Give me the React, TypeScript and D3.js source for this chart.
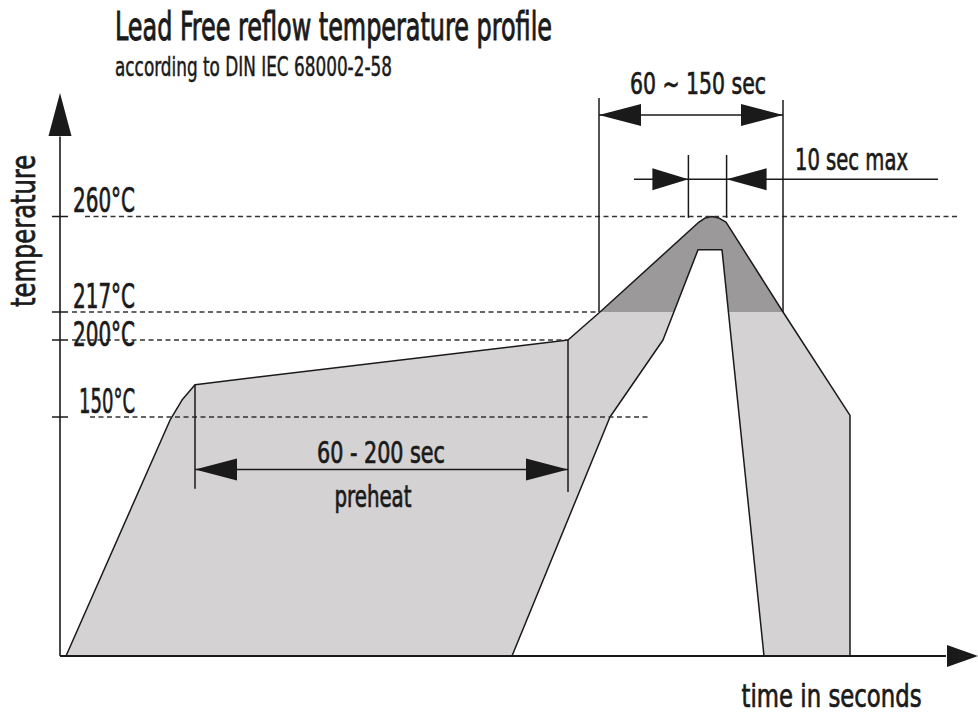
import React from 'react';
import * as d3 from 'd3';

// Schematic lead-free reflow profile. Points are [seconds, °C].
const upperProfile: [number, number][] = [
  [3, 0], [55, 148], [61, 161], [67.5, 171], [254, 200], [270, 217],
  [319.5, 257.5], [322.5, 259.3], [326, 260], [329.5, 259.3], [333, 257.5],
  [361.5, 217], [395, 151], [395, 0],
];
const lowerProfile: [number, number][] = [
  [352, 0], [331, 245], [319, 245], [301.5, 200], [275, 150], [226, 0],
];

const tempLevels = [260, 217, 200, 150];
const tempLabels = ['260°C', '217°C', '200°C', '150°C'];
// start / end second of each dashed guide line
const guideFrom = [12.5, 6, 6, 15];
const guideTo = [450, 269.5, 254, 295];

// dimension annotations [seconds, seconds, °C]
const preheatSpan = [67.5, 254, 117];
const peakSpan = [269.5, 361.5, 305.7];
const maxSpan = [314.2, 333.3, 276.8];

const title = 'Lead Free reflow temperature profile';
const subtitle = 'according to DIN IEC 68000-2-58';

const W = 978;
const H = 720;
const FONT = "'Liberation Sans Narrow', 'DejaVu Sans Condensed', 'Roboto', sans-serif";
const INK = '#1a1a1a';
const LIGHT = '#d4d2d3';
const DARK = '#9b999a';

const x = d3.scaleLinear().domain([0, 450]).range([60, 960]);
const y = d3.scaleLinear().domain([0, 150, 200, 217, 260]).range([656, 417, 340, 312, 216.5]);

const line = d3
  .line<[number, number]>()
  .x((d) => x(d[0]))
  .y((d) => y(d[1]))
  .curve(d3.curveLinearClosed);

// triangle with its tip at (tx, ty) pointing in direction dir
const arrow = (tx: number, ty: number, dir: 'l' | 'r' | 'u', len = 42, half = 11) => {
  if (dir === 'u') return `M${tx},${ty}L${tx - half},${ty + len}L${tx + half},${ty + len}Z`;
  const s = dir === 'r' ? -1 : 1;
  return `M${tx},${ty}L${tx + s * len},${ty - half}L${tx + s * len},${ty + half}Z`;
};

// medium-weight look: regular glyphs with a thin outline
const txt = { stroke: INK, strokeWidth: 0.7, lengthAdjust: 'spacingAndGlyphs' } as const;

const App: React.FC = () => {
  const band = [...upperProfile, ...lowerProfile];
  const clipY = y(217);

  const [pA, pB, pT] = preheatSpan;
  const [kA, kB, kT] = peakSpan;
  const [mA, mB, mT] = maxSpan;

  return (
    <svg
      width={W}
      height={H}
      style={{ position: 'absolute', left: 0, top: 0, background: '#fff' }}
      fontFamily={FONT}
      fill={INK}
    >
      <defs>
        <clipPath id="above217">
          <rect x={0} y={0} width={W} height={clipY} />
        </clipPath>
      </defs>

      {/* title */}
      <text x={115} y={40} fontSize={39} textLength={437} {...txt} strokeWidth={0.9}>
        {title}
      </text>
      <text x={115} y={76} fontSize={27} textLength={277} {...txt} strokeWidth={0.5}>
        {subtitle}
      </text>

      {/* profile band */}
      <path d={line(band) ?? ''} fill={LIGHT} stroke="none" />
      <path d={line(band) ?? ''} fill={DARK} stroke="none" clipPath="url(#above217)" />
      <path d={line(band) ?? ''} fill="none" stroke={INK} strokeWidth={1.5} strokeLinejoin="round" />

      {/* dashed guides */}
      {tempLevels.map((t, i) => (
        <line
          key={'g' + t}
          x1={x(guideFrom[i])}
          x2={x(guideTo[i])}
          y1={y(t)}
          y2={y(t)}
          stroke="#333"
          strokeWidth={1.5}
          strokeDasharray="5,3.5"
        />
      ))}

      {/* axes */}
      <line x1={x(0)} x2={x(0)} y1={y(0)} y2={y(296)} stroke={INK} strokeWidth={1.6} />
      <path d={arrow(x(0), y(315.6), 'u', 43, 11.5)} />
      <line x1={x(0)} x2={x(443)} y1={y(0)} y2={y(0)} stroke={INK} strokeWidth={1.8} />
      <path d={arrow(x(459), y(0), 'r', 31, 11)} />

      {tempLevels.map((t, i) => (
        <g key={'t' + t}>
          <line x1={x(0) - 8} x2={x(0) + 8} y1={y(t)} y2={y(t)} stroke={INK} strokeWidth={1.5} />
          <text
            x={x(37.5)}
            y={y(t) + (t === 200 ? 5.5 : -4.5)}
            fontSize={33}
            textAnchor="end"
            textLength={t === 150 ? 56 : 62}
            {...txt}
          >
            {tempLabels[i]}
          </text>
        </g>
      ))}

      <text
        transform={`translate(${x(-12.5)},${y(253.5)}) rotate(-90)`}
        fontSize={33}
        textAnchor="middle"
        textLength={152}
        {...txt}
      >
        temperature
      </text>
      <text x={x(430.8)} y={707} fontSize={32} textAnchor="end" textLength={180} {...txt}>
        time in seconds
      </text>

      {/* preheat dimension */}
      <g stroke={INK} strokeWidth={1.5}>
        <line x1={x(pA)} x2={x(pA)} y1={y(171)} y2={y(105)} />
        <line x1={x(pB)} x2={x(pB)} y1={y(200)} y2={y(103)} />
        <line x1={x(pA)} x2={x(pB)} y1={y(pT)} y2={y(pT)} />
      </g>
      <path d={arrow(x(pA), y(pT), 'l')} />
      <path d={arrow(x(pB), y(pT), 'r')} />
      <text x={x(160.5)} y={y(pT) - 7} fontSize={31} textAnchor="middle" textLength={128} {...txt}>
        60 - 200 sec
      </text>
      <text x={x(156.5)} y={y(93.5)} fontSize={31} textAnchor="middle" textLength={77} {...txt}>
        preheat
      </text>

      {/* 60 ~ 150 sec above liquidus */}
      <g stroke={INK} strokeWidth={1.5}>
        <line x1={x(kA)} x2={x(kA)} y1={y(313.4)} y2={y(217)} />
        <line x1={x(kB)} x2={x(kB)} y1={y(312.5)} y2={y(217)} />
        <line x1={x(kA)} x2={x(kB)} y1={y(kT)} y2={y(kT)} />
      </g>
      <path d={arrow(x(kA), y(kT), 'l')} />
      <path d={arrow(x(kB), y(kT), 'r')} />
      <text x={x(319)} y={y(kT) - 21.5} fontSize={31} textAnchor="middle" textLength={136} {...txt}>
        60 ~ 150 sec
      </text>

      {/* 10 sec max at peak */}
      <g stroke={INK} strokeWidth={1.5}>
        <line x1={x(mA)} x2={x(mA)} y1={y(287.7)} y2={y(259.4)} />
        <line x1={x(mB)} x2={x(mB)} y1={y(287.7)} y2={y(259.4)} />
        <line x1={x(287)} x2={x(439)} y1={y(mT)} y2={y(mT)} />
      </g>
      <path d={arrow(x(mA), y(mT), 'r', 36)} />
      <path d={arrow(x(mB), y(mT), 'l', 40)} />
      <text x={x(367.5)} y={y(mT) - 9.5} fontSize={31} textLength={113} {...txt}>
        10 sec max
      </text>
    </svg>
  );
};

export default App;
